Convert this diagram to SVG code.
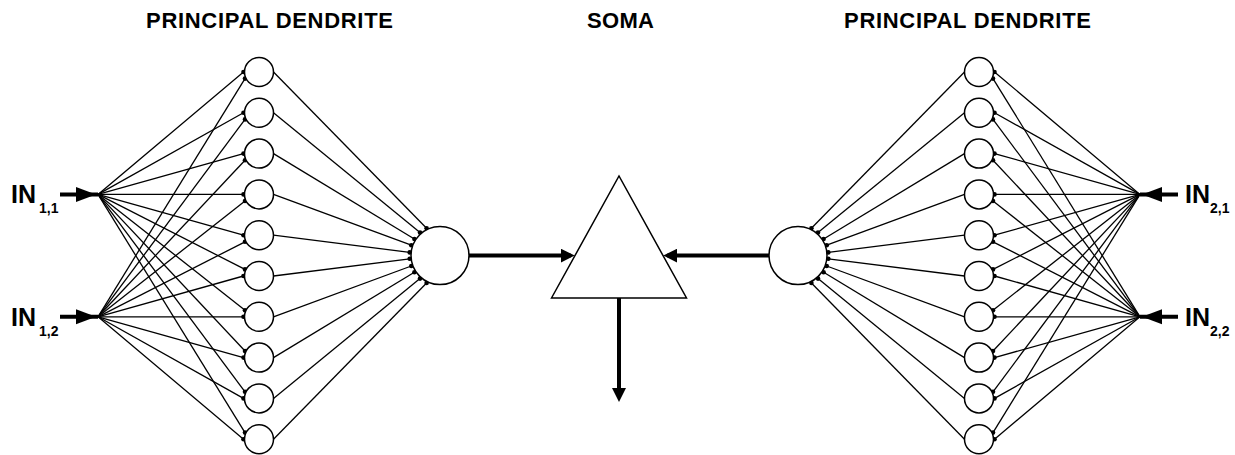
<svg xmlns="http://www.w3.org/2000/svg" width="1235" height="455" viewBox="0 0 1235 455">
  <style>
    .title { font-family: "Liberation Sans", Arial, sans-serif; font-weight: bold; font-size: 22px; fill: #000; }
    .lbl { font-family: "Liberation Sans", Arial, sans-serif; font-weight: bold; fill: #000; }
    .in { font-size: 25px; }
    .sub { font-size: 14px; }
    .unit { fill: #fff; stroke: #000; stroke-width: 1.5; }
    .soma { fill: #fff; stroke: #000; stroke-width: 1.5; }
    .syn { stroke: #000; stroke-width: 1.3; fill: none; marker-end: url(#dot); }
    .axon { stroke: #000; stroke-width: 4; fill: none; marker-end: url(#head); }
    .input { stroke: #000; stroke-width: 4; fill: none; marker-end: url(#inhead); }
  </style>
  <defs>
    <marker id="dot" viewBox="-3 -3 6 6" refX="0" refY="0" markerWidth="6" markerHeight="6" markerUnits="userSpaceOnUse">
      <circle r="2.3" fill="#000"/>
    </marker>
    <marker id="head" viewBox="0 0 14 14" refX="10" refY="7" markerWidth="14" markerHeight="14" markerUnits="userSpaceOnUse" orient="auto">
      <path d="M0,0 L14,7 L0,14 z" fill="#000"/>
    </marker>
    <marker id="inhead" viewBox="0 0 20 15" refX="22" refY="7.5" markerWidth="20" markerHeight="15" markerUnits="userSpaceOnUse" orient="auto" overflow="visible">
      <path d="M0,0 L20,7.5 L0,15 z" fill="#000"/>
    </marker>
  </defs>

  <rect width="1235" height="455" fill="#fff"/>

  <!-- section headings -->
  <g id="titles">
    <text class="title" x="269.5" y="28" text-anchor="middle" textLength="247" lengthAdjust="spacing">PRINCIPAL DENDRITE</text>
    <text class="title" x="620.5" y="28" text-anchor="middle" textLength="67" lengthAdjust="spacing">SOMA</text>
    <text class="title" x="967.5" y="28" text-anchor="middle" textLength="247" lengthAdjust="spacing">PRINCIPAL DENDRITE</text>
  </g>

  <g id="connectors">
    <!-- input lines with arrowheads -->
    <line class="input" x1="60" y1="194.4" x2="98" y2="194.4"/>
    <line class="input" x1="60" y1="316.8" x2="98" y2="316.8"/>
    <line class="input" x1="1178" y1="194.4" x2="1140" y2="194.4"/>
    <line class="input" x1="1178" y1="316.8" x2="1140" y2="316.8"/>

    <!-- left fan from input 1,1 -->
    <line class="syn" x1="98" y1="194.4" x2="243.5" y2="72"/>
    <line class="syn" x1="98" y1="194.4" x2="243.5" y2="112.8"/>
    <line class="syn" x1="98" y1="194.4" x2="243.5" y2="153.6"/>
    <line class="syn" x1="98" y1="194.4" x2="243.5" y2="194.4"/>
    <line class="syn" x1="98" y1="194.4" x2="243.5" y2="235.2"/>
    <line class="syn" x1="98" y1="194.4" x2="245" y2="269.4"/>
    <line class="syn" x1="98" y1="194.4" x2="245" y2="310.2"/>
    <line class="syn" x1="98" y1="194.4" x2="245" y2="351"/>
    <line class="syn" x1="98" y1="194.4" x2="245" y2="391.8"/>
    <line class="syn" x1="98" y1="194.4" x2="245" y2="432.6"/>
    <!-- left fan from input 1,2 -->
    <line class="syn" x1="98" y1="316.8" x2="245" y2="78.6"/>
    <line class="syn" x1="98" y1="316.8" x2="245" y2="119.4"/>
    <line class="syn" x1="98" y1="316.8" x2="245" y2="160.2"/>
    <line class="syn" x1="98" y1="316.8" x2="245" y2="201"/>
    <line class="syn" x1="98" y1="316.8" x2="245" y2="241.8"/>
    <line class="syn" x1="98" y1="316.8" x2="243.5" y2="276"/>
    <line class="syn" x1="98" y1="316.8" x2="243.5" y2="316.8"/>
    <line class="syn" x1="98" y1="316.8" x2="243.5" y2="357.6"/>
    <line class="syn" x1="98" y1="316.8" x2="243.5" y2="398.4"/>
    <line class="syn" x1="98" y1="316.8" x2="243.5" y2="439.2"/>
    <!-- left branches into the dendrite trunk -->
    <line class="syn" x1="273.5" y1="72" x2="426.6" y2="228.2"/>
    <line class="syn" x1="273.5" y1="112.8" x2="420" y2="232.6"/>
    <line class="syn" x1="273.5" y1="153.6" x2="414.4" y2="239"/>
    <line class="syn" x1="273.5" y1="194.4" x2="411.3" y2="245.2"/>
    <line class="syn" x1="273.5" y1="235.2" x2="409.7" y2="252.4"/>
    <line class="syn" x1="273.5" y1="276" x2="409.7" y2="258.8"/>
    <line class="syn" x1="273.5" y1="316.8" x2="411.3" y2="266"/>
    <line class="syn" x1="273.5" y1="357.6" x2="414.4" y2="272.2"/>
    <line class="syn" x1="273.5" y1="398.4" x2="420" y2="278.6"/>
    <line class="syn" x1="273.5" y1="439.2" x2="426.6" y2="283"/>

    <!-- right fan from input 2,1 -->
    <line class="syn" x1="1140" y1="194.4" x2="994.5" y2="72"/>
    <line class="syn" x1="1140" y1="194.4" x2="994.5" y2="112.8"/>
    <line class="syn" x1="1140" y1="194.4" x2="994.5" y2="153.6"/>
    <line class="syn" x1="1140" y1="194.4" x2="994.5" y2="194.4"/>
    <line class="syn" x1="1140" y1="194.4" x2="994.5" y2="235.2"/>
    <line class="syn" x1="1140" y1="194.4" x2="993" y2="269.4"/>
    <line class="syn" x1="1140" y1="194.4" x2="993" y2="310.2"/>
    <line class="syn" x1="1140" y1="194.4" x2="993" y2="351"/>
    <line class="syn" x1="1140" y1="194.4" x2="993" y2="391.8"/>
    <line class="syn" x1="1140" y1="194.4" x2="993" y2="432.6"/>
    <!-- right fan from input 2,2 -->
    <line class="syn" x1="1140" y1="316.8" x2="993" y2="78.6"/>
    <line class="syn" x1="1140" y1="316.8" x2="993" y2="119.4"/>
    <line class="syn" x1="1140" y1="316.8" x2="993" y2="160.2"/>
    <line class="syn" x1="1140" y1="316.8" x2="993" y2="201"/>
    <line class="syn" x1="1140" y1="316.8" x2="993" y2="241.8"/>
    <line class="syn" x1="1140" y1="316.8" x2="994.5" y2="276"/>
    <line class="syn" x1="1140" y1="316.8" x2="994.5" y2="316.8"/>
    <line class="syn" x1="1140" y1="316.8" x2="994.5" y2="357.6"/>
    <line class="syn" x1="1140" y1="316.8" x2="994.5" y2="398.4"/>
    <line class="syn" x1="1140" y1="316.8" x2="994.5" y2="439.2"/>
    <!-- right branches into the dendrite trunk -->
    <line class="syn" x1="964.5" y1="72" x2="811.4" y2="228.2"/>
    <line class="syn" x1="964.5" y1="112.8" x2="818" y2="232.6"/>
    <line class="syn" x1="964.5" y1="153.6" x2="823.6" y2="239"/>
    <line class="syn" x1="964.5" y1="194.4" x2="826.7" y2="245.2"/>
    <line class="syn" x1="964.5" y1="235.2" x2="828.3" y2="252.4"/>
    <line class="syn" x1="964.5" y1="276" x2="828.3" y2="258.8"/>
    <line class="syn" x1="964.5" y1="316.8" x2="826.7" y2="266"/>
    <line class="syn" x1="964.5" y1="357.6" x2="823.6" y2="272.2"/>
    <line class="syn" x1="964.5" y1="398.4" x2="818" y2="278.6"/>
    <line class="syn" x1="964.5" y1="439.2" x2="811.4" y2="283"/>

    <!-- trunks to soma and soma output -->
    <line class="axon" x1="469" y1="255.6" x2="570.7" y2="255.6"/>
    <line class="axon" x1="769" y1="255.6" x2="667.3" y2="255.6"/>
    <line class="axon" x1="619" y1="298" x2="619" y2="398"/>
  </g>

  <!-- input labels -->
  <g id="in-1-1">
    <text class="lbl in" x="11" y="203">IN</text>
    <text class="lbl sub" x="39" y="213">1,1</text>
  </g>
  <g id="in-1-2">
    <text class="lbl in" x="11" y="325.5">IN</text>
    <text class="lbl sub" x="39" y="335.5">1,2</text>
  </g>
  <g id="in-2-1">
    <text class="lbl in" x="1185" y="203">IN</text>
    <text class="lbl sub" x="1210" y="213">2,1</text>
  </g>
  <g id="in-2-2">
    <text class="lbl in" x="1185" y="325.5">IN</text>
    <text class="lbl sub" x="1210" y="335.5">2,2</text>
  </g>

  <!-- left dendritic units -->
  <g id="left-units">
    <circle id="l0" class="unit" cx="259" cy="72" r="14.5"/>
    <circle id="l1" class="unit" cx="259" cy="112.8" r="14.5"/>
    <circle id="l2" class="unit" cx="259" cy="153.6" r="14.5"/>
    <circle id="l3" class="unit" cx="259" cy="194.4" r="14.5"/>
    <circle id="l4" class="unit" cx="259" cy="235.2" r="14.5"/>
    <circle id="l5" class="unit" cx="259" cy="276" r="14.5"/>
    <circle id="l6" class="unit" cx="259" cy="316.8" r="14.5"/>
    <circle id="l7" class="unit" cx="259" cy="357.6" r="14.5"/>
    <circle id="l8" class="unit" cx="259" cy="398.4" r="14.5"/>
    <circle id="l9" class="unit" cx="259" cy="439.2" r="14.5"/>
  </g>
  <g id="left-trunk">
    <circle class="unit" cx="440" cy="255.6" r="29"/>
  </g>

  <g id="soma">
    <polygon class="soma" points="551.5,298 619,176 686.5,298"/>
  </g>

  <g id="right-trunk">
    <circle class="unit" cx="798" cy="255.6" r="29"/>
  </g>
  <!-- right dendritic units -->
  <g id="right-units">
    <circle id="r0" class="unit" cx="979" cy="72" r="14.5"/>
    <circle id="r1" class="unit" cx="979" cy="112.8" r="14.5"/>
    <circle id="r2" class="unit" cx="979" cy="153.6" r="14.5"/>
    <circle id="r3" class="unit" cx="979" cy="194.4" r="14.5"/>
    <circle id="r4" class="unit" cx="979" cy="235.2" r="14.5"/>
    <circle id="r5" class="unit" cx="979" cy="276" r="14.5"/>
    <circle id="r6" class="unit" cx="979" cy="316.8" r="14.5"/>
    <circle id="r7" class="unit" cx="979" cy="357.6" r="14.5"/>
    <circle id="r8" class="unit" cx="979" cy="398.4" r="14.5"/>
    <circle id="r9" class="unit" cx="979" cy="439.2" r="14.5"/>
  </g>
</svg>
